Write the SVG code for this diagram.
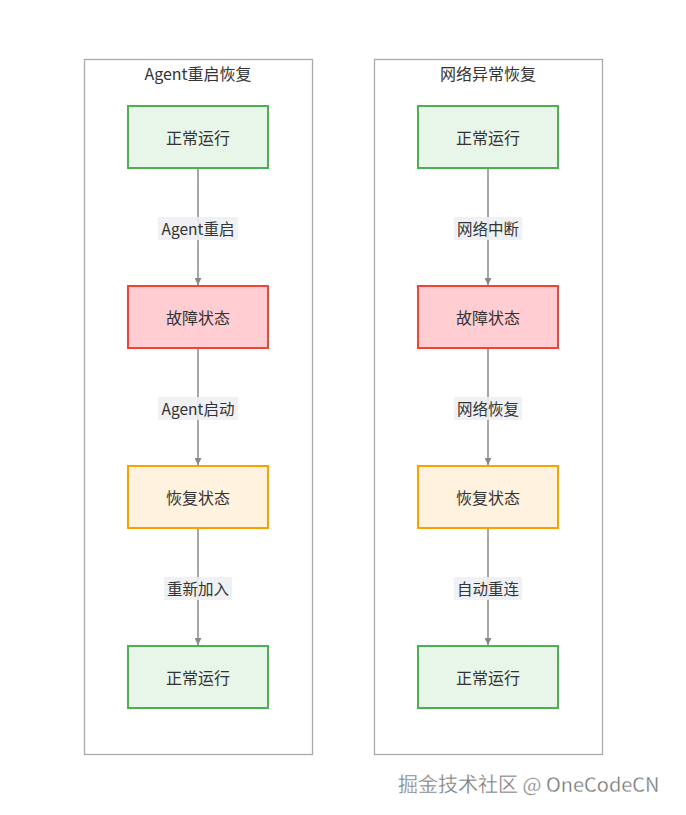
<svg xmlns="http://www.w3.org/2000/svg" width="686" height="815" viewBox="0 0 686 815">
<defs>
<style>
text{font-family:"Noto Sans CJK SC","Liberation Sans",sans-serif;fill:#333;text-anchor:middle;dominant-baseline:central}
.cl{fill:#fff;stroke:#aaa;stroke-width:1.3}
.ct{font-size:16px}
.n rect{stroke-width:2}
.n text{font-size:16px}
.g rect{fill:#e8f5e9;stroke:#4caf50}
.r rect{fill:#ffcdd2;stroke:#f44336}
.o rect{fill:#fff3e0;stroke:#ffa000}
.e line{stroke:#888;stroke-width:1.5;marker-end:url(#ah)}
.lb{fill:#eef0f4;opacity:0.9}
.lt{font-size:15.5px}
.wm{font-size:20px;fill:#777;text-anchor:start;stroke:#fff;stroke-width:0.3}
</style>
<marker id="ah" viewBox="0 0 10 10" refX="10" refY="5" markerWidth="7" markerHeight="7" markerUnits="userSpaceOnUse" orient="auto"><path d="M0,0L10,5L0,10z" fill="#888"/></marker>
</defs>
<rect width="686" height="815" fill="#fff"/>
<g id="cluster-left"><rect class="cl" x="84.5" y="59.5" width="228" height="695"/><text class="ct" x="198" y="73">Agent重启恢复</text></g>
<g id="cluster-right"><rect class="cl" x="374.5" y="59.5" width="228" height="695"/><text class="ct" x="488" y="73">网络异常恢复</text></g>
<g id="connectors">
<g class="e">
<line x1="198" y1="168" x2="198" y2="285"/>
<line x1="198" y1="348" x2="198" y2="465"/>
<line x1="198" y1="528" x2="198" y2="645"/>
<line x1="488" y1="168" x2="488" y2="285"/>
<line x1="488" y1="348" x2="488" y2="465"/>
<line x1="488" y1="528" x2="488" y2="645"/>
</g>
<rect class="lb" x="158" y="217" width="80" height="23"/><text class="lt" x="198" y="228">Agent重启</text>
<rect class="lb" x="158" y="397" width="80" height="23"/><text class="lt" x="198" y="408">Agent启动</text>
<rect class="lb" x="164" y="577" width="68" height="23"/><text class="lt" x="198" y="588">重新加入</text>
<rect class="lb" x="454" y="217" width="68" height="23"/><text class="lt" x="488" y="228">网络中断</text>
<rect class="lb" x="454" y="397" width="68" height="23"/><text class="lt" x="488" y="408">网络恢复</text>
<rect class="lb" x="454" y="577" width="68" height="23"/><text class="lt" x="488" y="588">自动重连</text>
</g>
<g id="L1" class="n g"><rect x="128" y="106" width="140" height="62"/><text x="198" y="137">正常运行</text></g>
<g id="L2" class="n r"><rect x="128" y="286" width="140" height="62"/><text x="198" y="317">故障状态</text></g>
<g id="L3" class="n o"><rect x="128" y="466" width="140" height="62"/><text x="198" y="497">恢复状态</text></g>
<g id="L4" class="n g"><rect x="128" y="646" width="140" height="62"/><text x="198" y="677">正常运行</text></g>
<g id="R1" class="n g"><rect x="418" y="106" width="140" height="62"/><text x="488" y="137">正常运行</text></g>
<g id="R2" class="n r"><rect x="418" y="286" width="140" height="62"/><text x="488" y="317">故障状态</text></g>
<g id="R3" class="n o"><rect x="418" y="466" width="140" height="62"/><text x="488" y="497">恢复状态</text></g>
<g id="R4" class="n g"><rect x="418" y="646" width="140" height="62"/><text x="488" y="677">正常运行</text></g>
<text class="wm" x="398" y="783">掘金技术社区 @ OneCodeCN</text>
</svg>
